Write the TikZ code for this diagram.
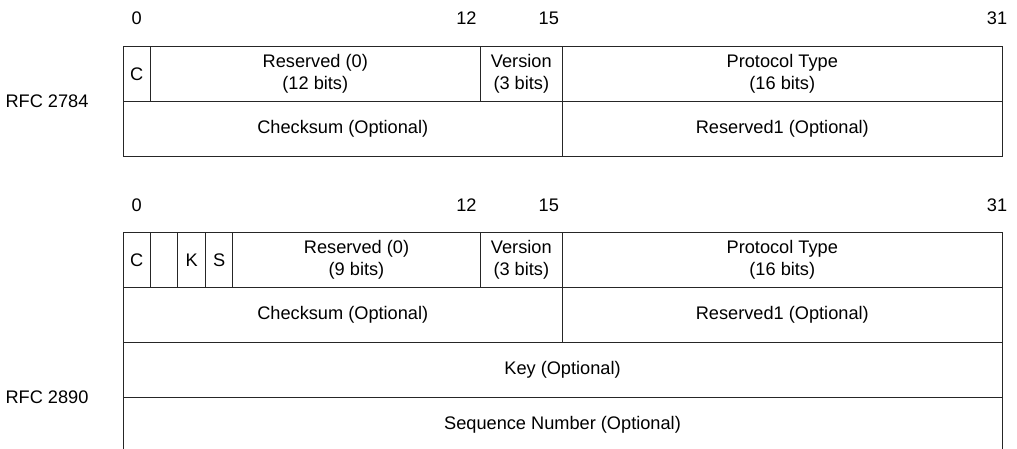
\documentclass[tikz,border=0pt]{standalone}
\usepackage{fontspec}
\setmainfont{Liberation Sans}
\usetikzlibrary{positioning}

\begin{document}
\begin{tikzpicture}[
  x=1pt, y=-1pt,
  field/.style={draw=black!85, line width=1pt, inner sep=0pt, outer sep=0pt,
                minimum height=55pt, align=center,
                font=\fontsize{18.2}{22.5}\selectfont},
  bits/.style={minimum width=#1*27.47pt},
  bitno/.style={font=\fontsize{18.2}{22.5}\selectfont},
  rfc/.style={font=\fontsize{18.2}{22.5}\selectfont}
]
  \useasboundingbox (0,0) rectangle (1017,448);
  \clip (0,0) rectangle (1017,448);

  % RFC 2784 header
  \node[bitno] (a0)  at (136.7,18) {0};
  \node[bitno] (a12) at (466.4,18) {12};
  \node[bitno] (a15) at (548.8,18) {15};
  \node[bitno] (a31) at (997,18)   {31};

  \node[field, bits=1, anchor=north west] (ac) at (123,46.5) {C};
  \node[field, bits=12, right=0pt of ac] (ares) {Reserved (0)\\(12 bits)};
  \node[field, bits=3, right=0pt of ares] (aver) {Version\\(3 bits)};
  \node[field, bits=16, right=0pt of aver] (aproto) {Protocol Type\\(16 bits)};
  \node[field, bits=16, below=0pt of ac.south west, anchor=north west] (acsum)
    {Checksum (Optional)};
  \node[field, bits=16, right=0pt of acsum] (ares1) {Reserved1 (Optional)};

  \node[rfc] (rfca) at (47,101) {RFC 2784};

  % RFC 2890 header
  \node[bitno] (b0)  at (136.7,205) {0};
  \node[bitno] (b12) at (466.4,205) {12};
  \node[bitno] (b15) at (548.8,205) {15};
  \node[bitno] (b31) at (997,205)   {31};

  \node[field, bits=1, anchor=north west] (bc) at (123,232.5) {C};
  \node[field, bits=1, right=0pt of bc] (bblank) {};
  \node[field, bits=1, right=0pt of bblank] (bk) {K};
  \node[field, bits=1, right=0pt of bk] (bs) {S};
  \node[field, bits=9, right=0pt of bs] (bres) {Reserved (0)\\(9 bits)};
  \node[field, bits=3, right=0pt of bres] (bver) {Version\\(3 bits)};
  \node[field, bits=16, right=0pt of bver] (bproto) {Protocol Type\\(16 bits)};
  \node[field, bits=16, below=0pt of bc.south west, anchor=north west] (bcsum)
    {Checksum (Optional)};
  \node[field, bits=16, right=0pt of bcsum] (bres1) {Reserved1 (Optional)};
  \node[field, bits=32, below=0pt of bcsum.south west, anchor=north west] (bkey)
    {Key (Optional)};
  \node[field, bits=32, below=0pt of bkey] (bseq) {Sequence Number (Optional)};

  \node[rfc] (rfcb) at (47,397) {RFC 2890};
\end{tikzpicture}
\end{document}
